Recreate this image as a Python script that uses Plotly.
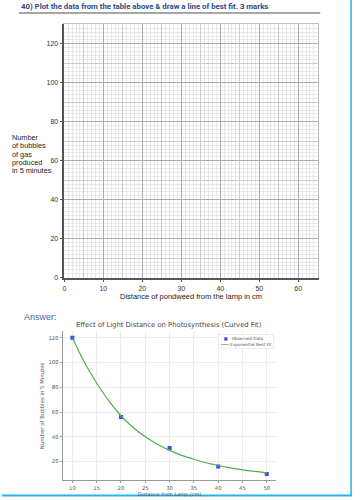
import plotly.graph_objects as go

W, H = 364, 500

# ---- data ----
# Chart 1: empty graph-paper axes
grid_x_range = [0, 65]
grid_y_range = [0, 130]
grid_x_ticks = [0, 10, 20, 30, 40, 50, 60]
grid_y_ticks = [0, 20, 40, 60, 80, 100, 120]
grid_y_title_lines = ["Number", "of bubbles", "of gas", "produced", "in 5 minutes"]

# Chart 2: answer chart
distance_cm = [10, 20, 30, 40, 50]
bubbles = [120, 56, 31, 16, 10]
fit_x = [10, 12.5, 15, 17.5, 20, 22.5, 25, 27.5, 30, 32.5, 35, 37.5, 40, 42.5, 45, 47.5, 50]
fit_y = [120, 100, 83.5, 69, 57, 47.5, 40, 34, 29, 25, 21.8, 19, 16.8, 14.9, 13.3, 12, 10.9]
ans_x_ticks = [10, 15, 20, 25, 30, 35, 40, 45, 50]
ans_y_ticks = [20, 40, 60, 80, 100, 120]
series_names = ["Observed Data", "Exponential Best Fit"]
marker_color = "#3a4df0"
line_color = "#4caf50"


def px(x):
    return x / W


def py(y):
    return 1 - y / H


fig = go.Figure()

# invisible traces to hold chart 1 axes
fig.add_trace(go.Scatter(x=[None], y=[None], xaxis="x", yaxis="y", showlegend=False, hoverinfo="skip"))
fig.add_trace(go.Scatter(x=[None], y=[None], xaxis="x3", yaxis="y3", showlegend=False, hoverinfo="skip"))

# chart 2 traces
fig.add_trace(go.Scatter(
    x=distance_cm, y=bubbles, mode="markers", name=series_names[0],
    marker=dict(symbol="square", size=4, color=marker_color),
    xaxis="x2", yaxis="y2", showlegend=False))
fig.add_trace(go.Scatter(
    x=fit_x, y=fit_y, mode="lines", name=series_names[1],
    line=dict(color=line_color, width=1.2, shape="spline"),
    xaxis="x2", yaxis="y2", showlegend=False))

c1x = [px(62.7), px(317.5)]
c1y = [py(279.3), py(24.5)]
c2x = [px(61), px(276)]
c2y = [py(483.3), py(333.3)]

tickfont1 = dict(family="Liberation Sans, Arial", size=7, color="#333")
tickfont2 = dict(family="DejaVu Sans", size=5.3, color="#555")

fig.update_layout(
    width=W, height=H, margin=dict(l=0, r=0, t=0, b=0),
    paper_bgcolor="white", plot_bgcolor="rgba(0,0,0,0)",
    showlegend=False,
    # chart 1 base: medium + minor grid
    xaxis=dict(domain=c1x, range=grid_x_range, dtick=5, tick0=0, showticklabels=False,
               showgrid=True, gridcolor="#cccccc", gridwidth=1, zeroline=False,
               minor=dict(dtick=1, showgrid=True, gridcolor="#e8e8e8", gridwidth=1),
               showline=True, linecolor="#c0c0c0", mirror=True, anchor="y", fixedrange=True),
    yaxis=dict(domain=c1y, range=grid_y_range, dtick=10, tick0=0, showticklabels=False,
               showgrid=True, gridcolor="#cccccc", gridwidth=1, zeroline=False,
               minor=dict(dtick=2, showgrid=True, gridcolor="#e8e8e8", gridwidth=1),
               showline=True, linecolor="#c0c0c0", mirror=True, anchor="x", fixedrange=True),
    # chart 1 overlay: major grid + labels
    xaxis3=dict(overlaying="x", range=grid_x_range, tickvals=grid_x_ticks, anchor="y3",
                showgrid=True, gridcolor="#adadad", gridwidth=1, zeroline=False,
                ticks="outside", ticklen=3, tickcolor="#555", tickfont=tickfont1,
                showline=True, linecolor="#555", linewidth=1.5, side="bottom",
                title=dict(text="Distance of pondweed from the lamp in cm",
                           font=dict(family="Liberation Sans, Arial", size=7.5, color="#222"),
                           standoff=2),
                fixedrange=True),
    yaxis3=dict(overlaying="y", range=grid_y_range, tickvals=grid_y_ticks, anchor="x3",
                showgrid=True, gridcolor="#adadad", gridwidth=1, zeroline=False,
                ticks="outside", ticklen=3, tickcolor="#555", tickfont=tickfont1,
                showline=True, linecolor="#555", linewidth=1.5, side="left",
                fixedrange=True),
    # chart 2
    xaxis2=dict(domain=c2x, range=[8, 52], tickvals=ans_x_ticks, anchor="y2",
                showgrid=True, gridcolor="#ececec", zeroline=False,
                ticks="outside", ticklen=2, tickcolor="#999", tickfont=tickfont2,
                showline=True, linecolor="#999", linewidth=1,
                title=dict(text="Distance from Lamp (cm)",
                           font=dict(family="DejaVu Sans", size=5, color="#555"), standoff=0),
                fixedrange=True),
    yaxis2=dict(domain=c2y, range=[4.75, 125.25], tickvals=ans_y_ticks, anchor="x2",
                showgrid=True, gridcolor="#ececec", zeroline=False,
                ticks="outside", ticklen=2, tickcolor="#999", tickfont=tickfont2,
                showline=True, linecolor="#999", linewidth=1,
                title=dict(text="Number of Bubbles in 5 Minutes",
                           font=dict(family="DejaVu Sans", size=5.4, color="#555"), standoff=3),
                fixedrange=True),
)

# text annotations
fig.add_annotation(x=px(17), y=py(6.5), xref="paper", yref="paper", xanchor="left", yanchor="middle",
                   text="<b>40) Plot the data from the table above &amp; draw a line of best fit. 3 marks</b>",
                   showarrow=False,
                   font=dict(family="Roboto, Arial", size=7.8, color="#2b4a8c"))
for i, line in enumerate(grid_y_title_lines):
    fig.add_annotation(x=px(8), y=py(138.5 + 8.3 * i), xref="paper", yref="paper",
                       xanchor="left", yanchor="middle", align="left", showarrow=False,
                       text=line, font=dict(family="Liberation Sans, Arial", size=7.3, color="#222"))
fig.add_annotation(x=px(20), y=py(319), xref="paper", yref="paper", xanchor="left", yanchor="middle",
                   text="Answer:", showarrow=False,
                   font=dict(family="Liberation Sans, Arial", size=9, color="#4a68a8"))
fig.add_annotation(x=px(168), y=py(327), xref="paper", yref="paper", xanchor="center", yanchor="middle",
                   text="Effect of Light Distance on Photosynthesis (Curved Fit)", showarrow=False,
                   font=dict(family="DejaVu Sans", size=6.8, color="#444"))
# legend (text-based)
fig.add_annotation(x=px(274), y=py(336), xref="paper", yref="paper", xanchor="right", yanchor="top",
                   align="left", showarrow=False,
                   text=(f"<span style='color:{marker_color}'>&nbsp;&nbsp;■&nbsp;&nbsp;</span>&nbsp;{series_names[0]}"
                         f"<br><span style='color:{line_color}'>━━━</span>&nbsp;{series_names[1]}"),
                   font=dict(family="DejaVu Sans", size=4.2, color="#555"),
                   bgcolor="rgba(255,255,255,0.9)", bordercolor="#e2e2e2", borderwidth=0.6, borderpad=1.5)

# decorative lines
fig.add_shape(type="line", xref="paper", yref="paper", x0=px(17), x1=px(320), y0=py(13), y1=py(13),
              line=dict(color="#8a8a8a", width=1.5))
fig.add_shape(type="line", xref="paper", yref="paper", x0=px(351), x1=px(351), y0=py(0), y1=py(498),
              line=dict(color="#22b4ee", width=1.5))
fig.add_shape(type="line", xref="paper", yref="paper", x0=px(0), x1=px(352), y0=py(498.5), y1=py(498.5),
              line=dict(color="#22b4ee", width=2))

fig.write_html("out.html", config={"displayModeBar": False},
               post_script="document.body.style.margin='0';")
